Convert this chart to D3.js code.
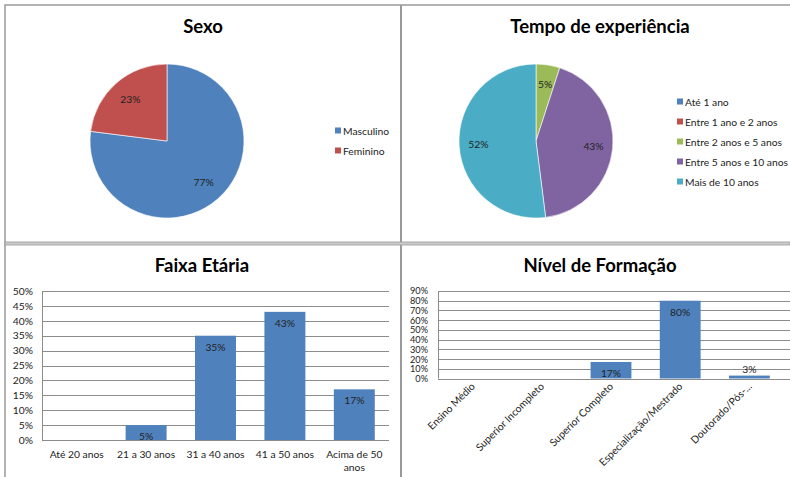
<!DOCTYPE html>
<html>
<head>
<meta charset="utf-8">
<script src="https://cdn.jsdelivr.net/npm/d3@7"></script>
<style>
body { margin: 0; background: #fff; }
svg { display: block; font-family: Lato, "Open Sans", sans-serif; }
</style>
</head>
<body>
<div id="chart"></div>
<script>
// data
const sexoLabels = ["Masculino", "Feminino"];
const sexoValues = [77, 23];

const tempoLabels = ["Até 1 ano", "Entre 1 ano e 2 anos", "Entre 2 anos e 5 anos", "Entre 5 anos e 10 anos", "Mais de 10 anos"];
const tempoValues = [0, 0, 5, 43, 52];

const idadeLabels = ["Até 20 anos", "21 a 30 anos", "31 a 40 anos", "41 a 50 anos", "Acima de 50 anos"];
const idadeValues = [0, 5, 35, 43, 17];
const idadeTicks = [0, 5, 10, 15, 20, 25, 30, 35, 40, 45, 50];

const formLabels = ["Ensino Médio", "Superior Incompleto", "Superior Completo", "Especialização/Mestrado", "Doutorado/Pós-..."];
const formValues = [0, 0, 17, 80, 3];
const formTicks = [0, 10, 20, 30, 40, 50, 60, 70, 80, 90];

const colors = ["#4F81BD", "#C0504D", "#9BBB59", "#8064A2", "#4BACC6"];
const FS = 10.3;

const W = 790, H = 477;
const svg = d3.select("#chart").append("svg")
	.attr("width", W)
	.attr("height", H);

// panel frame
svg.append("path")
	.attr("d", `M5,${H} V5 H${W}`)
	.attr("fill", "none").attr("stroke", "#999").attr("stroke-width", 1.5);
svg.append("line").attr("x1", 401).attr("x2", 401).attr("y1", 5).attr("y2", H)
	.attr("stroke", "#999").attr("stroke-width", 2);
svg.append("rect").attr("x", 5).attr("y", 242).attr("width", W - 5).attr("height", 3)
	.attr("fill", "#ccc").attr("stroke", "#999").attr("stroke-width", 0.8);

function title(x, y, txt) {
	svg.append("text")
		.attr("x", x).attr("y", y)
		.attr("text-anchor", "middle")
		.attr("font-size", 18.5).attr("font-weight", "bold")
		.attr("fill", "#000")
		.text(txt);
}

function drawPie(cx, cy, r, values, labels, labelPos, lx, ly) {
	const g = svg.append("g").attr("transform", `translate(${cx},${cy})`);
	const pie = d3.pie().sort(null).value(d => d);
	const arcs = pie(values);
	const arc = d3.arc().innerRadius(0).outerRadius(r);
	g.selectAll("path")
		.data(arcs)
		.join("path")
		.attr("d", arc)
		.attr("fill", (d, i) => colors[i])
		.attr("stroke", "#fff")
		.attr("stroke-width", 0.6);
	const la = d3.arc().innerRadius(r * labelPos).outerRadius(r * labelPos);
	g.selectAll("text")
		.data(arcs.filter(d => d.data > 0))
		.join("text")
		.attr("transform", d => `translate(${la.centroid(d)})`)
		.attr("text-anchor", "middle")
		.attr("dy", "0.35em")
		.attr("font-size", FS)
		.attr("fill", "#222")
		.text(d => d.data + "%");

	// legend
	const lg = svg.append("g").attr("transform", `translate(${lx},${ly})`);
	const item = lg.selectAll("g")
		.data(labels)
		.join("g")
		.attr("transform", (d, i) => `translate(0,${i * 20})`);
	item.append("rect")
		.attr("x", 0).attr("y", -3.5)
		.attr("width", 6).attr("height", 6)
		.attr("fill", (d, i) => colors[i]);
	item.append("text")
		.attr("x", 8).attr("dy", "0.35em")
		.attr("font-size", FS).attr("fill", "#222")
		.text(d => d);
}

title(203, 33, "Sexo");
drawPie(167, 141, 77, sexoValues, sexoLabels, 0.72, 335, 131);

title(600, 33, "Tempo de experiência");
drawPie(536, 141, 77, tempoValues, tempoLabels, 0.75, 677, 102);

function drawBars(opt) {
	const x = d3.scaleBand().domain(opt.labels).range([opt.left, opt.right]);
	const y = d3.scaleLinear().domain([0, opt.max]).range([opt.bottom, opt.top]);
	const g = svg.append("g");
	const rows = opt.labels.map((l, i) => ({label: l, value: opt.values[i]}));

	g.selectAll("line.grid")
		.data(opt.ticks)
		.join("line")
		.attr("class", "grid")
		.attr("x1", opt.left).attr("x2", opt.gridRight)
		.attr("y1", d => Math.round(y(d)) + 0.5).attr("y2", d => Math.round(y(d)) + 0.5)
		.attr("stroke", "#8c8c8c").attr("stroke-width", 1);
	g.append("line")
		.attr("x1", opt.left + 0.5).attr("x2", opt.left + 0.5)
		.attr("y1", opt.top).attr("y2", opt.bottom)
		.attr("stroke", "#8c8c8c");

	const yAxis = d3.axisLeft(y).tickValues(opt.ticks).tickSize(0).tickPadding(0)
		.tickFormat(d => d + "%");
	g.append("g")
		.attr("transform", `translate(${opt.tickX},0)`)
		.call(yAxis)
		.call(s => s.select(".domain").remove())
		.selectAll("text")
		.attr("font-size", opt.tickFS).attr("fill", "#222")
		.attr("font-family", "Lato, sans-serif");

	const bw = x.bandwidth() * 0.59;
	g.selectAll("rect.bar")
		.data(rows)
		.join("rect")
		.attr("class", "bar")
		.attr("x", d => x(d.label) + (x.bandwidth() - bw) / 2)
		.attr("y", d => y(d.value))
		.attr("width", bw)
		.attr("height", d => opt.bottom - y(d.value))
		.attr("fill", colors[0]);

	g.selectAll("text.val")
		.data(rows.filter(d => d.value > 0))
		.join("text")
		.attr("class", "val")
		.attr("x", d => x(d.label) + x.bandwidth() / 2)
		.attr("y", d => opt.inside(d.value) ? y(d.value) + 15 : y(d.value) - 3)
		.attr("text-anchor", "middle")
		.attr("font-size", FS).attr("fill", "#222")
		.text(d => d.value + "%");
	return x;
}

title(202, 272, "Faixa Etária");
const xi = drawBars({
	labels: idadeLabels, values: idadeValues, ticks: idadeTicks, max: 50,
	left: 42, right: 389, gridRight: 389, top: 291, bottom: 440, tickX: 33,
	tickFS: FS, inside: d => true
});
svg.append("g").selectAll("text")
	.data(idadeLabels)
	.join("text")
	.attr("x", d => xi(d) + xi.bandwidth() / 2)
	.attr("y", 458)
	.attr("text-anchor", "middle")
	.attr("font-size", FS).attr("fill", "#222")
	.each(function (d) {
		const t = d3.select(this);
		if (d === "Acima de 50 anos") {
			t.append("tspan").attr("x", xi(d) + xi.bandwidth() / 2).text("Acima de 50");
			t.append("tspan").attr("x", xi(d) + xi.bandwidth() / 2).attr("dy", 13).text("anos");
		} else {
			t.text(d);
		}
	});

title(600, 272, "Nível de Formação");
const xf = drawBars({
	labels: formLabels, values: formValues, ticks: formTicks, max: 90,
	left: 438, right: 784, gridRight: 790, top: 291, bottom: 378.5, tickX: 428,
	tickFS: 9.2, inside: d => d > 10
});
svg.append("g").selectAll("text")
	.data(formLabels)
	.join("text")
	.attr("transform", d => `translate(${xf(d) + xf.bandwidth() / 2 + 3},${387}) rotate(-45)`)
	.attr("text-anchor", "end")
	.attr("font-size", FS).attr("fill", "#222")
	.text(d => d);
</script>
</body>
</html>
